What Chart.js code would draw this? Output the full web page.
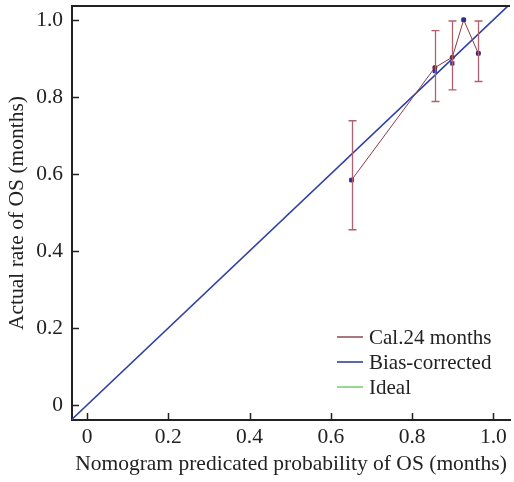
<!DOCTYPE html>
<html>
<head>
<meta charset="utf-8">
<script src="https://cdn.jsdelivr.net/npm/chart.js@4/dist/chart.umd.min.js"></script>
<style>
  html, body { margin: 0; padding: 0; background: #fff; }
  #wrap { width: 514px; height: 482px; }
</style>
</head>
<body>
<div id="wrap"><canvas id="chart" width="514" height="482"></canvas></div>
<script>
// tick values and labels
const tickValues = [0, 0.2, 0.4, 0.6, 0.8, 1.0];
const tickLabels = ['0', '0.2', '0.4', '0.6', '0.8', '1.0'];

// calibration points (24 months)
const calX = [0.651, 0.856, 0.899, 0.927, 0.963];
const calY = [0.584, 0.876, 0.903, 1.0, 0.913];
const calLow = [0.455, 0.788, 0.818, 1.0, 0.840];
const calHigh = [0.738, 0.972, 0.997, 1.0, 0.997];

// bias-corrected points
const biasY = [0.584, 0.867, 0.887, 1.0, 0.913];

// reference lines
const lineX = [-0.04, 1.04];
const lineY = [-0.04, 1.04];

const FONT = "'Liberation Serif', 'Times New Roman', serif";
const pts = (xs, ys) => xs.map((x, i) => ({ x: x, y: ys[i] }));

// error bars + inward ticks + top frame line + legend
const extras = {
    id: 'extras',
    afterDatasetsDraw(chart) {
        const { ctx, scales: { x, y } } = chart;
        ctx.save();
        ctx.strokeStyle = '#b0606e';
        ctx.lineWidth = 1.3;
        calX.forEach((v, i) => {
            if (calLow[i] === calHigh[i]) return;
            const px = Math.round(x.getPixelForValue(v)) + 0.5;
            const y1 = y.getPixelForValue(calLow[i]);
            const y2 = y.getPixelForValue(calHigh[i]);
            ctx.beginPath();
            ctx.moveTo(px, y1); ctx.lineTo(px, y2);
            ctx.moveTo(px - 4, y1); ctx.lineTo(px + 4, y1);
            ctx.moveTo(px - 4, y2); ctx.lineTo(px + 4, y2);
            ctx.stroke();
        });
        ctx.restore();
    },
    afterDraw(chart) {
        const { ctx, chartArea: a, scales: { x, y } } = chart;
        ctx.save();
        ctx.strokeStyle = '#222';
        ctx.lineWidth = 1.5;
        ctx.beginPath();
        tickValues.forEach(v => {
            const px = Math.round(x.getPixelForValue(v)) + 0.5;
            ctx.moveTo(px, a.bottom); ctx.lineTo(px, a.bottom - 7);
            const py = Math.round(y.getPixelForValue(v)) + 0.5;
            ctx.moveTo(a.left, py); ctx.lineTo(a.left + 7, py);
        });
        ctx.stroke();
        // top frame
        ctx.lineWidth = 2;
        ctx.beginPath();
        ctx.moveTo(a.left, a.top); ctx.lineTo(a.right, a.top);
        ctx.stroke();

        // legend
        const items = [
            { label: 'Cal.24 months', color: '#8b4a55' },
            { label: 'Bias-corrected', color: '#2a3590' },
            { label: 'Ideal', color: '#6fcf6f' }
        ];
        const rows = [337, 362, 387];
        ctx.font = '21px ' + FONT;
        ctx.textBaseline = 'middle';
        ctx.fillStyle = '#222';
        items.forEach((it, i) => {
            ctx.strokeStyle = it.color;
            ctx.lineWidth = 1.5;
            ctx.beginPath();
            ctx.moveTo(337, rows[i]); ctx.lineTo(363, rows[i]);
            ctx.stroke();
            ctx.fillText(it.label, 369, rows[i] + 1);
        });
        ctx.restore();
    }
};

const ctx = document.getElementById('chart').getContext('2d');
const chart = new Chart(ctx, {
    type: 'scatter',
    data: {
        datasets: [
            {
                label: 'Bias-corrected points',
                data: pts(calX, biasY),
                showLine: false,
                pointStyle: 'rect',
                pointRadius: 3,
                backgroundColor: '#2b2f9c',
                borderColor: '#2b2f9c',
                borderWidth: 0,
                order: 1
            },
            {
                label: 'Cal.24 months',
                data: pts(calX, calY),
                showLine: true,
                borderColor: '#8a3a48',
                borderWidth: 1,
                pointRadius: 2.5,
                pointBackgroundColor: '#6e2a35',
                pointBorderWidth: 0,
                order: 2
            },
            {
                label: 'Bias-corrected',
                data: pts(lineX, lineY),
                showLine: true,
                borderColor: '#3040a8',
                borderWidth: 1.6,
                pointRadius: 0,
                order: 3
            },
            {
                label: 'Ideal',
                data: pts(lineX, lineY),
                showLine: true,
                borderColor: '#6fcf6f',
                borderWidth: 1,
                pointRadius: 0,
                order: 4
            }
        ]
    },
    options: {
        responsive: false,
        animation: false,
        layout: { padding: { top: 6, right: 0, left: 0, bottom: 0 } },
        plugins: {
            legend: { display: false },
            tooltip: { enabled: false }
        },
        scales: {
            x: {
                type: 'linear',
                min: -0.037,
                max: 1.041,
                afterBuildTicks: s => { s.ticks = tickValues.map(v => ({ value: v })); },
                afterFit: s => { s.height = 62; s.paddingLeft = 0; s.paddingRight = 0; },
                grid: { drawOnChartArea: false, drawTicks: false },
                border: { display: true, color: '#222', width: 2 },
                ticks: {
                    padding: 4,
                    color: '#222',
                    font: { family: FONT, size: 21.5 },
                    callback: (v, i) => tickLabels[i]
                },
                title: {
                    display: true,
                    text: 'Nomogram predicated probability of OS (months)',
                    color: '#222',
                    font: { family: FONT, size: 21.5 },
                    padding: { top: 0, bottom: 5 }
                }
            },
            y: {
                type: 'linear',
                min: -0.039,
                max: 1.036,
                afterBuildTicks: s => { s.ticks = tickValues.map(v => ({ value: v })); },
                afterFit: s => { s.width = 72; s.paddingTop = 0; s.paddingBottom = 0; },
                grid: { drawOnChartArea: false, drawTicks: false },
                border: { display: true, color: '#222', width: 2 },
                ticks: {
                    padding: 9,
                    color: '#222',
                    font: { family: FONT, size: 21.5 },
                    callback: (v, i) => tickLabels[i]
                },
                title: {
                    display: true,
                    text: 'Actual rate of OS (months)',
                    color: '#222',
                    font: { family: FONT, size: 21.5 },
                    padding: { top: 4, bottom: 0 }
                }
            }
        }
    },
    plugins: [extras]
});
</script>
</body>
</html>
